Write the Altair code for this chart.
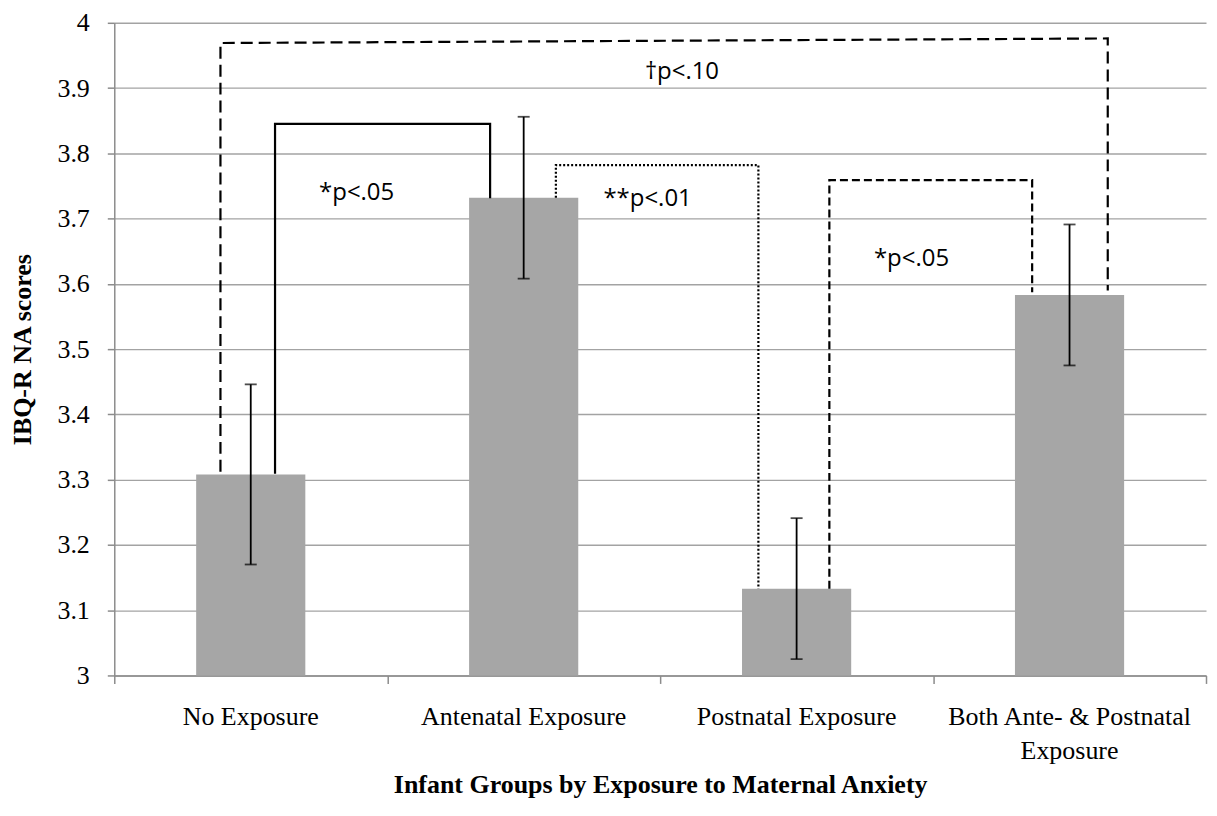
import altair as alt
import pandas as pd

# ---- data ----
groups = ["No Exposure", "Antenatal Exposure", "Postnatal Exposure",
          "Both Ante- & Postnatal\nExposure"]
means = [3.308, 3.732, 3.133, 3.583]
errors = [0.138, 0.124, 0.108, 0.108]
y_ticks = [3, 3.1, 3.2, 3.3, 3.4, 3.5, 3.6, 3.7, 3.8, 3.9, 4]
x_bounds = [0, 1, 2, 3, 4]

# significance brackets (x in category units: 0..4, y in score units)
brk_a_x = [0.389, 0.389, 3.640, 3.640]
brk_a_y = [3.312, 3.969, 3.976, 3.590]
brk_b_x = [0.589, 0.589, 1.377, 1.377]
brk_b_y = [3.309, 3.845, 3.845, 3.731]
brk_c_x = [1.618, 1.618, 2.360, 2.360]
brk_c_y = [3.732, 3.782, 3.782, 3.133]
brk_d_x = [2.620, 2.620, 3.363, 3.363]
brk_d_y = [3.133, 3.759, 3.759, 3.587]

ann_text = ["\u2020p<.10", "*p<.05", "**p<.01", "*p<.05"]
ann_x = [2.080, 0.888, 1.954, 2.921]
ann_y = [3.914, 3.729, 3.719, 3.628]

# ---- tables ----
bars_df = pd.DataFrame({"group": groups, "mean": means, "base": [3.0] * len(groups)})
err_df = pd.DataFrame({
    "pos": [i + 0.5 for i in range(len(groups))],
    "lo": [m - e for m, e in zip(means, errors)],
    "hi": [m + e for m, e in zip(means, errors)],
})
ann_df = pd.DataFrame({"text": ann_text, "x": ann_x, "y": ann_y})


def bracket_df(xs, ys):
    return pd.DataFrame({"x": xs, "y": ys, "idx": list(range(len(xs)))})


SERIF = "Liberation Serif"
GRID = "#A3A3A3"
AX = "#8C8C8C"

y_scale = alt.Scale(domain=[3, 4], nice=False, zero=False)
xq_scale = alt.Scale(domain=[0, 4], nice=False, zero=False)

y_axis = alt.Axis(
    title="IBQ-R NA scores", values=y_ticks, format="~g",
    grid=True, gridColor=GRID, gridWidth=1.4,
    domainColor=AX, domainWidth=1.5, tickColor=AX, tickSize=7, tickWidth=1.5,
    labelFont=SERIF, labelFontSize=26, labelColor="black", labelPadding=18,
    titleFont=SERIF, titleFontSize=26, titleFontWeight="bold", titleColor="black",
    titleX=-91.5, titleY=327, titleAlign="center", titleBaseline="middle",
)

bars = alt.Chart(bars_df).mark_bar(color="#A6A6A6").encode(
    x=alt.X("group:N", sort=groups,
            scale=alt.Scale(paddingInner=0.6, paddingOuter=0.3),
            axis=alt.Axis(
                orient="bottom",
                title="Infant Groups by Exposure to Maternal Anxiety",
                labelAngle=0, ticks=False, tickSize=0, domain=False, grid=False,
                labelFont=SERIF, labelFontSize=26, labelColor="black",
                labelPadding=28, labelExpr="split(datum.label, '\\n')",
                labelLineHeight=34, labelLimit=500,
                titleFont=SERIF, titleFontSize=26, titleFontWeight="bold",
                titleColor="black", titleY=109, titleBaseline="middle",
            )),
    y=alt.Y("mean:Q", scale=y_scale, axis=y_axis),
    y2="base:Q",
)

err_rule = alt.Chart(err_df).mark_rule(color="black", strokeWidth=1.8).encode(
    x=alt.X("pos:Q", scale=xq_scale,
            axis=alt.Axis(orient="bottom", values=x_bounds, labels=False, ticks=True,
                          tickSize=8, tickColor=AX, tickWidth=1.5, domain=True,
                          domainColor=AX, domainWidth=1.5, grid=False, title=None)),
    y=alt.Y("lo:Q", scale=y_scale, axis=y_axis),
    y2="hi:Q",
)
cap_lo = alt.Chart(err_df).mark_tick(color="black", orient="horizontal", size=12, thickness=1.8).encode(
    x=alt.X("pos:Q", scale=xq_scale, axis=None),
    y=alt.Y("lo:Q", scale=y_scale, axis=y_axis),
)
cap_hi = alt.Chart(err_df).mark_tick(color="black", orient="horizontal", size=12, thickness=1.8).encode(
    x=alt.X("pos:Q", scale=xq_scale, axis=None),
    y=alt.Y("hi:Q", scale=y_scale, axis=y_axis),
)


def bracket(xs, ys, dash, width):
    kw = dict(color="black", strokeWidth=width, strokeCap="butt", strokeJoin="miter")
    if dash:
        kw["strokeDash"] = dash
    return alt.Chart(bracket_df(xs, ys)).mark_line(**kw).encode(
        x=alt.X("x:Q", scale=xq_scale, axis=None),
        y=alt.Y("y:Q", scale=y_scale, axis=y_axis),
        order="idx:Q",
    )


brk_a = bracket(brk_a_x, brk_a_y, [12, 6], 2.2)
brk_b = bracket(brk_b_x, brk_b_y, None, 2.2)
brk_c = bracket(brk_c_x, brk_c_y, [2, 2], 2.2)
brk_d = bracket(brk_d_x, brk_d_y, [8, 4], 2.2)

ann = alt.Chart(ann_df).mark_text(
    font="Open Sans", fontSize=24, color="black", align="center", baseline="alphabetic"
).encode(
    x=alt.X("x:Q", scale=xq_scale, axis=None),
    y=alt.Y("y:Q", scale=y_scale, axis=y_axis),
    text="text:N",
)

chart = alt.layer(
    bars, err_rule, cap_lo, cap_hi, brk_a, brk_b, brk_c, brk_d, ann
).resolve_scale(x="independent").properties(
    width=1094, height=654,
    autosize=alt.AutoSizeParams(type="none"),
    padding={"left": 106.5, "top": 14, "right": 3, "bottom": 132},
    background="white",
).configure_view(stroke=None).configure_axis(
    labelFont=SERIF, titleFont=SERIF, labelColor="black", titleColor="black"
)

chart.save("out.html", embed_options={"renderer": "svg", "actions": False})
